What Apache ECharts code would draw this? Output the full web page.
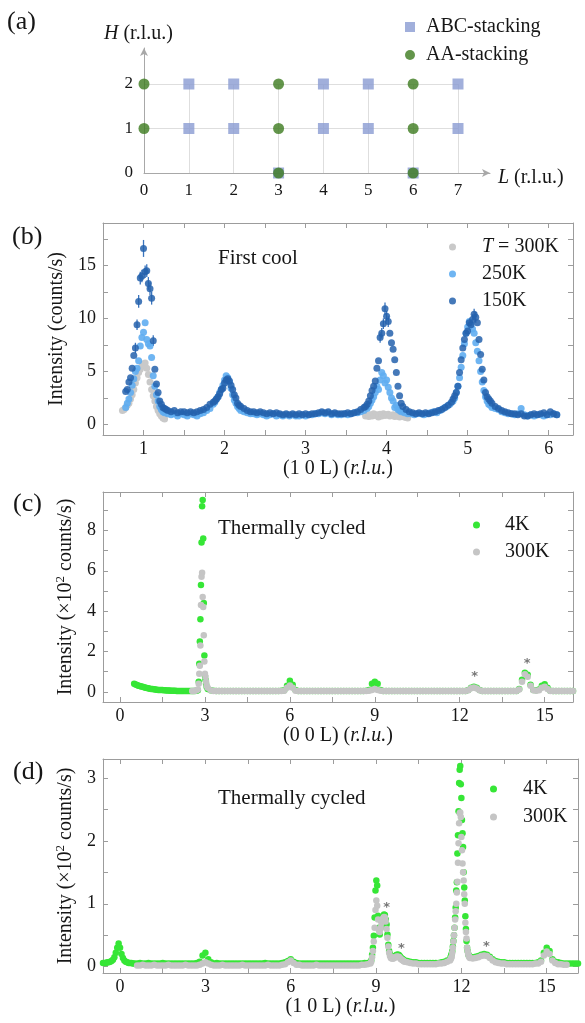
<!DOCTYPE html>
<html>
<head>
<meta charset="utf-8">
<script src="https://cdn.jsdelivr.net/npm/echarts@6/dist/echarts.min.js"></script>
<style>
html,body{margin:0;padding:0;background:#fff;}
#chart{width:585px;height:1023px;}
</style>
</head>
<body>
<div id="chart"></div>
<script>
// ---------- (a) reciprocal-space map of allowed (H 0 L) reflections ----------
const abcStacking = [[1,2],[2,2],[4,2],[5,2],[7,2],[1,1],[2,1],[4,1],[5,1],[7,1],[3,0],[6,0]];
const aaStacking  = [[0,2],[3,2],[6,2],[0,1],[3,1],[6,1],[3,0],[6,0]];

// Scans are stored as segments: [first L, L step, intensities...]
// ---------- (b) first cool, (1 0 L), counts/s ----------
const firstCool300K = [
  [0.74, 0.02, [1.3,1.4,1.6,1.8,2.0,2.4,2.8,3.3,3.9,4.4,4.9,5.2,5.5,5.7,5.8,5.3,4.7,4.0,3.3,2.7,2.2,1.7,1.3,1.0,0.8,0.6,0.5]],
  [3.74, 0.02, [0.8,0.85,0.75,0.9,0.8,1.0,0.85,0.9,0.7,0.95,0.8,1.0,0.85,0.9,0.95,0.8,0.85,0.9,0.75,0.8,0.85,0.7,0.75,0.8,0.7,0.65,0.6]]
];
const firstCool250K = [
  [0.78, 0.02, [1.6,2.0,2.4,3.0,3.7,4.3,5.0,5.3,6.0,7.4,8.2,8.7,9.6,8.0,7.6,7.4,6.3,4.6,3.6,2.8,2.2,1.7,1.4,1.2,1.1]],
  [1.30, 0.04, [1.0,0.9,1.0,0.8,1.0,0.9,0.8,1.0,0.9,0.8,1.0,1.1,1.3,1.5]],
  [1.86, 0.02, [1.9,2.1,2.4,2.6,3.0,3.3,3.7,4.2,4.6,4.4,4.0,3.4,2.8,2.3,2.0,1.7,1.5,1.3]],
  [2.24, 0.04, [1.2,1.1,1.0,1.0,0.9,1.0,0.9,0.8,0.9,1.0,0.8,0.9,0.8,0.9,0.8,0.9,0.8,0.8,0.9,0.8,0.9,0.9,1.0,1.0,1.1,1.0,1.1,0.9,1.0,0.9,0.9,1.0,0.9,1.0,1.1,1.1,1.2,1.3]],
  [3.76, 0.02, [1.5,1.7,2.0,2.3,2.6,3.0,3.6,3.3,4.2,4.9,4.6,3.9,4.2,3.5,3.0,2.5,2.2,1.6,1.8,1.4,1.3,1.2]],
  [4.22, 0.04, [1.1,1.0,1.0,0.9,1.0,1.0,0.9,1.0,1.1,1.2,1.1,1.3,1.5,1.7,1.9,2.2]],
  [4.84, 0.02, [2.5,3.0,3.6,4.4,5.4,6.5,7.6,8.6,9.2,9.7,9.4,9.0,8.6,7.7,6.9,6.0,5.0,4.0,3.2,2.6,2.2,1.9,1.8,1.6]],
  [5.34, 0.04, [1.5,1.4,1.2,1.1,1.0,1.0,0.9,1.0,1.5,0.9,0.8,0.9,0.8,0.9,0.9,0.8,0.9,0.9,1.0,0.9]]
];
const firstCool150K = [
  [0.78, 0.02, [3.1,3.3,4.0,4.4,5.3,6.5,7.2,9.4,11.6,13.8,14.0,16.6,14.4,14.5,13.3,12.8,11.9,7.9,5.2,3.8,3.0,2.2,1.9,1.6,1.5,1.4,1.3]],
  [1.34, 0.04, [1.2,1.3,1.1,1.2,1.2,1.1,1.2,1.1,1.2,1.3,1.4,1.6,1.9,2.1]],
  [1.88, 0.02, [2.2,2.4,2.6,2.9,3.3,3.4,3.9,4.2,4.3,4.1,3.7,3.3,2.8,2.5,2.0,1.8,1.7]],
  [2.24, 0.04, [1.5,1.3,1.2,1.2,1.1,1.2,1.1,1.0,1.1,1.0,1.1,1.0,0.9,1.0,0.9,1.0,0.9,1.0,0.9,1.0,0.9,1.0,1.0,1.1,1.2,1.1,1.2,1.0,1.1,1.0,1.0,1.0,1.1,1.0,1.1,1.2,1.4,1.6]],
  [3.74, 0.02, [1.7,1.9,2.2,2.7,3.2,3.6,4.1,5.3,6.0,8.2,8.6,9.5,10.9,10.2,9.7,8.6,7.7,7.1,6.1,4.9,3.6,2.7,2.0,1.7]],
  [4.24, 0.04, [1.4,1.2,1.1,1.0,1.1,1.0,1.1,1.0,1.1,1.2,1.3,1.4,1.6,1.8,2.1]],
  [4.82, 0.02, [2.4,2.7,3.0,3.6,4.9,6.1,7.2,8.0,8.6,8.8,9.6,9.4,9.9,10.4,10.1,9.6,8.0,6.6,5.2,4.2,3.0,2.6,2.4,2.2,2.0]],
  [5.34, 0.04, [1.7,1.5,1.3,1.2,1.1,1.0,1.0,0.9,1.0,0.8,0.8,0.9,1.0,0.9,1.0,1.1,0.9,1.2,1.0,0.9]]
];
// statistical error bars of the 150K scan: [L, sigma]
const firstCool150KErr = [[0.90,0.5],[0.92,0.5],[0.94,0.6],[0.96,0.6],[0.98,0.6],[1.00,0.8],[1.02,0.6],[1.04,0.6],[1.06,0.6],[1.08,0.6],[1.10,0.6],[1.12,0.5],
  [3.92,0.5],[3.94,0.5],[3.96,0.5],[3.98,0.6],[4.00,0.5],[4.02,0.5],[5.04,0.5],[5.06,0.5],[5.08,0.5],[5.10,0.5]];

// ---------- (c) thermally cycled, (0 0 L), x10^2 counts/s ----------
const cycled00L_4K = [
  [0.50, 0.05, [0.40,0.37,0.34,0.31,0.29,0.27,0.25,0.23,0.21,0.19,0.18,0.16,0.15,0.14,0.13,0.12,0.11,0.10,0.10,0.09,0.09,0.08,0.08,0.07,0.07,0.07,0.06,0.06,0.06,0.06,0.05,0.05,0.05,0.05,0.05,0.05,0.05,0.05,0.05,0.05,0.05,0.05,0.05,0.05,0.06,0.08]],
  [2.78, 0.02, [0.5,1.4,2.5,3.6,5.3,7.4,9.2,9.5,7.6,4.4,1.8,0.8,0.6,0.4,0.25]],
  [3.10, 0.10, [0.15,0.08,0.06,
    0.05,0.05,0.05,0.05,0.05,0.05,0.05,0.05,0.05,0.05,0.05,0.05,0.05,0.05,0.05,0.05,0.05,0.05,0.05,0.05,0.05,0.05,0.05,0.06,
    0.08,0.30,0.55,0.35,0.10,
    0.05,0.05,0.05,0.05,0.05,0.05,0.05,0.05,0.05,0.05,0.05,0.05,0.05,0.05,0.05,0.05,0.05,0.05,0.05,0.05,0.05,0.05,0.05,0.05,0.06,
    0.10,0.40,0.50,0.40,0.10,
    0.05,0.05,0.05,0.05,0.05,0.05,0.05,0.05,0.05,0.05,0.05,0.05,0.05,0.05,0.05,0.05,0.05,0.05,0.05,0.05,0.05,0.05,0.05,0.05,0.05,0.05,0.05,0.05,0.05,0.05,
    0.10,0.20,0.26,0.20,0.10,
    0.05,0.05,0.05,0.05,0.05,0.05,0.05,0.05,0.05,0.05,0.05,0.05,0.05,
    0.15,0.60,0.95,0.85,0.35,0.10,0.08,0.12,0.30,0.38,0.20,0.06,
    0.05,0.05,0.05,0.05,0.05,0.05,0.05,0.05]]
];
const cycled00L_300K = [
  [2.55, 0.05, [0.05,0.05,0.06,0.08,0.12]],
  [2.78, 0.02, [0.4,0.9,1.3,2.3,4.3,5.7,5.9,4.7,4.2,2.8,1.5,0.9,0.75,0.5,0.3]],
  [3.10, 0.10, [0.20,0.08,0.05,
    0.05,0.05,0.05,0.05,0.05,0.05,0.05,0.05,0.05,0.05,0.05,0.05,0.05,0.05,0.05,0.05,0.05,0.05,0.05,0.05,0.05,0.05,0.05,0.05,
    0.06,0.20,0.32,0.20,0.06,
    0.05,0.05,0.05,0.05,0.05,0.05,0.05,0.05,0.05,0.05,0.05,0.05,0.05,0.05,0.05,0.05,0.05,0.05,0.05,0.05,0.05,0.05,0.05,0.05,0.05,
    0.06,0.10,0.14,0.10,0.06,
    0.05,0.05,0.05,0.05,0.05,0.05,0.05,0.05,0.05,0.05,0.05,0.05,0.05,0.05,0.05,0.05,0.05,0.05,0.05,0.05,0.05,0.05,0.05,0.05,0.05,0.05,0.05,0.05,0.05,0.05,
    0.08,0.18,0.22,0.17,0.08,
    0.05,0.05,0.05,0.05,0.05,0.05,0.05,0.05,0.05,0.05,0.05,0.05,0.05,
    0.12,0.50,0.88,0.75,0.30,0.08,0.06,0.08,0.20,0.26,0.15,0.05,
    0.05,0.05,0.05,0.05,0.05,0.05,0.05,0.05]]
];
const cycled00LStars = [[12.53, 0.74], [14.38, 1.40]];

// ---------- (d) thermally cycled, (1 0 L), x10^2 counts/s ----------
const cycled10L_4K = [
  [-0.60, 0.05, [0.06,0.06,0.06,0.07,0.07,0.08,0.09,0.11,0.15,0.22,0.30,0.37,0.30,0.20,0.14,0.10,0.08,0.07,0.06,0.06,0.06,0.05,0.05]],
  [0.60, 0.10, [0.05,0.06,0.05,0.05,0.06,0.05,0.05,0.05,0.05,0.06,0.05,0.05,0.05,0.05,0.05,0.05,0.05,0.05,0.05,0.05,0.05,0.06,
    0.08,0.18,0.22,0.12,0.07,
    0.05,0.06,0.05,0.05,0.05,0.05,0.05,0.05,0.05,0.05,0.05,0.05,0.05,0.05,0.05,0.05,0.05,0.05,0.06,0.05,0.05,0.05,0.05,0.05,0.06,0.07,
    0.09,0.12,0.08,
    0.06,0.05,0.05,0.05,0.05,0.05,0.05,0.05,0.05,0.05,0.05,0.05,0.05,0.05,0.05,0.05,0.05,0.05,0.05,0.05,0.05,0.05,0.05,0.05,0.06,0.06]],
  [8.80, 0.03, [0.07,0.10,0.19,0.30,0.49,0.78,1.21,1.37,1.29,0.81,0.62,0.51,0.62,0.73,0.78,0.80,0.83,0.82,0.75,0.67,0.51,0.35,0.25,0.20,0.17,0.16,0.15,0.15,0.16,0.17,0.18,0.19,0.19,0.19,0.18,0.16,0.14,0.13,0.12,0.11]],
  [10.0, 0.10, [0.10,0.09,0.08,0.07,0.07,0.06,0.06,0.06,0.06,0.06,0.06,0.06,0.06,0.07,0.08,0.10]],
  [11.60, 0.02, [0.12,0.15,0.18,0.21,0.25,0.32,0.41,0.50,0.62,0.78,0.94,1.21,1.34,1.80,2.09,2.47,2.92,3.13,3.19,2.90,2.68,2.33,2.12,1.90,1.50,1.26,1.05,0.80,0.60,0.41,0.30,0.25,0.20,0.18,0.17,0.16]],
  [12.4, 0.10, [0.15,0.16,0.17,0.19,0.20,0.19,0.16,0.12,0.09,0.08,0.07,0.07,0.06,0.06,0.06,0.06,0.06,0.06,0.06,0.06,0.06,0.06,0.06,0.07,0.10,0.22,0.30,0.25,0.12,0.08,0.07,0.06,0.05,0.05,0.05,0.05,0.05,0.05]]
];
const cycled10L_300K = [
  [0.60, 0.10, [0.02,0.02,0.03,0.02,0.02,0.02,0.03,0.02,0.02,0.02,0.02,0.03,0.02,0.02,0.02,0.02,0.02,0.03,0.02,0.02,0.02,0.02,
    0.03,0.05,0.07,0.05,0.03,
    0.02,0.02,0.02,0.03,0.02,0.02,0.02,0.02,0.02,0.02,0.03,0.02,0.02,0.02,0.02,0.02,0.02,0.02,0.02,0.03,0.02,0.02,0.02,0.02,0.03,0.04,
    0.07,0.10,0.06,
    0.03,0.03,0.02,0.02,0.02,0.02,0.02,0.03,0.02,0.02,0.02,0.02,0.02,0.02,0.02,0.02,0.02,0.02,0.02,0.02,0.02,0.02,0.02,0.03,0.03,0.04]],
  [8.80, 0.03, [0.05,0.08,0.15,0.25,0.40,0.62,0.90,1.05,0.97,0.75,0.58,0.55,0.62,0.70,0.74,0.77,0.79,0.78,0.72,0.60,0.46,0.32,0.22,0.17,0.14,0.13,0.13,0.13,0.14,0.15,0.16,0.16,0.16,0.16,0.15,0.13,0.12,0.11,0.10,0.09]],
  [10.0, 0.10, [0.08,0.07,0.06,0.05,0.05,0.04,0.04,0.04,0.04,0.04,0.04,0.04,0.05,0.05,0.06,0.08]],
  [11.60, 0.02, [0.10,0.12,0.14,0.16,0.22,0.30,0.40,0.50,0.62,0.75,0.88,1.00,1.18,1.35,1.65,1.96,2.28,2.44,2.45,2.38,2.06,1.85,1.64,1.50,1.37,1.15,1.00,0.70,0.55,0.45,0.30,0.24,0.20,0.17,0.15,0.14]],
  [12.4, 0.10, [0.13,0.14,0.15,0.17,0.18,0.17,0.14,0.10,0.07,0.06,0.05,0.05,0.04,0.04,0.04,0.04,0.04,0.04,0.04,0.04,0.04,0.04,0.05,0.05,0.08,0.18,0.24,0.20,0.10,0.06,0.04,0.04,0.03,0.03]]
];
const cycled10LStars = [[9.37, 0.94], [9.89, 0.29], [12.88, 0.32]];

// ---------- tick positions ----------
const bTicksX = [1,1.5,2,2.5,3,3.5,4,4.5,5,5.5,6];
const bLabelsX = [1,2,3,4,5,6];
const bTicksY = [0,2.5,5,7.5,10,12.5,15,17.5];
const bLabelsY = [0,5,10,15];
const cdTicksX = [0,1.5,3,4.5,6,7.5,9,10.5,12,13.5,15];
const cdLabelsX = [0,3,6,9,12,15];
const cTicksY = [0,1,2,3,4,5,6,7,8,9];
const cLabelsY = [0,2,4,6,8];
const dTicksY = [0,0.5,1,1.5,2,2.5,3];
const dLabelsY = [0,1,2,3];

// expand scan segments into [L, I] points
function scan(segments) {
  const pts = [];
  segments.forEach(([start, step, vals]) => {
    vals.forEach((v, i) => pts.push([Math.round((start + step * i) * 1000) / 1000, v]));
  });
  return pts;
}

const serif = '"Liberation Serif","Times New Roman",Times,serif';
const frameColor = '#9c9c9c';
const tickText = { fontFamily: serif, fontSize: 18, color: '#161616' };
const italicRich = {
  i: { fontFamily: serif, fontSize: 20, fontStyle: 'italic', color: '#161616' },
  a: { fontFamily: serif, fontSize: 20, color: '#161616', lineHeight: 24 },
  s: { fontFamily: serif, fontSize: 13, color: '#161616', verticalAlign: 'top', lineHeight: 13 }
};
const titleText = { fontFamily: serif, fontSize: 20, color: '#161616', rich: italicRich };

function frameX(grid, min, max, ticks, labels, name, nameGap) {
  const common = {
    type: 'value', gridIndex: grid, min: min, max: max, splitLine: { show: false },
    axisLine: { show: true, onZero: false, lineStyle: { color: frameColor, width: 1 } },
    axisTick: { show: true, inside: true, length: 5, customValues: ticks, lineStyle: { color: frameColor } }
  };
  return [
    Object.assign({}, common, {
      position: 'bottom',
      axisLabel: Object.assign({ customValues: labels, margin: 5 }, tickText),
      name: name, nameLocation: 'middle', nameGap: nameGap, nameTextStyle: titleText
    }),
    Object.assign({}, common, { position: 'top', axisLabel: { show: false } })
  ];
}
function frameY(grid, min, max, ticks, labels, name, nameGap) {
  const common = {
    type: 'value', gridIndex: grid, min: min, max: max, splitLine: { show: false },
    axisLine: { show: true, onZero: false, lineStyle: { color: frameColor, width: 1 } },
    axisTick: { show: true, inside: true, length: 5, customValues: ticks, lineStyle: { color: frameColor } }
  };
  return [
    Object.assign({}, common, {
      position: 'left',
      axisLabel: Object.assign({ customValues: labels, margin: 7 }, tickText),
      name: name, nameLocation: 'middle', nameGap: nameGap, nameTextStyle: titleText
    }),
    Object.assign({}, common, { position: 'right', axisLabel: { show: false } })
  ];
}

const arrowAxis = {
  type: 'value', gridIndex: 1, min: 0, max: 1,
  axisLine: { show: true, onZero: false, symbol: ['none', 'arrow'], symbolSize: [6, 8], lineStyle: { color: '#a8a8a8', width: 1 } },
  axisTick: { show: false }, axisLabel: { show: false }, splitLine: { show: false }
};

const xAxes = [
  { type: 'value', gridIndex: 0, min: 0, max: 7, interval: 1,
    axisLine: { show: false }, axisTick: { show: false },
    axisLabel: Object.assign({ margin: 9 }, tickText, { fontSize: 17 }),
    splitLine: { show: true, lineStyle: { color: '#dedede', width: 1 } } },
  Object.assign({}, arrowAxis, { position: 'bottom' })
].concat(
  frameX(2, 0.5, 6.3, bTicksX, bLabelsX, '(1 0 L) ({i|r.l.u.})', 22),
  frameX(3, -0.6, 16, cdTicksX, cdLabelsX, '(0 0 L) ({i|r.l.u.})', 22),
  frameX(4, -0.6, 16.1, cdTicksX, cdLabelsX, '(1 0 L) ({i|r.l.u.})', 22)
);
const yAxes = [
  { type: 'value', gridIndex: 0, min: 0, max: 2, interval: 1,
    axisLine: { show: false }, axisTick: { show: false },
    axisLabel: Object.assign({ margin: 11 }, tickText, { fontSize: 17 }),
    splitLine: { show: true, lineStyle: { color: '#dedede', width: 1 } } },
  Object.assign({}, arrowAxis, { position: 'left' })
].concat(
  frameY(2, -1, 19, bTicksY, bLabelsY, 'Intensity (counts/s)', 26),
  frameY(3, -0.5, 9.9, cTicksY, cLabelsY, '{a|Intensity (×10}{s|2}{a| counts/s)}', 21),
  frameY(4, -0.1, 3.3, dTicksY, dLabelsY, '{a|Intensity (×10}{s|2}{a| counts/s)}', 21)
);

// 150K error bars, anchored to the measured intensity at each L
const pts150 = scan(firstCool150K);
const lookup150 = new Map(pts150.map(p => [p[0].toFixed(2), p[1]]));
const errData = firstCool150KErr.map(([L, e]) => [L, lookup150.get(L.toFixed(2)), e]);

const green = '#36e636';
const grey = '#c5c5c5';

function dots(name, xi, data, color, size, opacity) {
  return { name: name, type: 'scatter', xAxisIndex: xi, yAxisIndex: xi, data: data,
    symbol: 'circle', symbolSize: size, itemStyle: { color: color, opacity: opacity }, silent: true };
}
function stars(xi, data) {
  return { type: 'scatter', xAxisIndex: xi, yAxisIndex: xi, data: data, symbolSize: 0, silent: true,
    label: { show: true, position: 'inside', formatter: '*', color: '#555', fontFamily: 'DejaVu Sans', fontSize: 13, fontWeight: 'bold' } };
}

const legendBase = { orient: 'vertical', selectedMode: false, itemWidth: 7, itemHeight: 7 };
const displayName = { f300: '{i|T} = 300K', f250: '250K', f150: '150K', c4: '4K', c300: '300K', d4: '4K', d300: '300K' };
const legendText = (pad) => ({ fontFamily: serif, fontSize: 20, color: '#161616', lineHeight: 20, padding: [0, 0, 0, pad], rich: italicRich });

const option = {
  animation: false,
  backgroundColor: '#ffffff',
  grid: [
    { left: 144, top: 84, width: 314, height: 89 },
    { left: 144, top: 48, width: 346, height: 125 },
    { left: 103, top: 223, width: 470, height: 212 },
    { left: 103, top: 492, width: 470, height: 210 },
    { left: 103, top: 759, width: 475, height: 214 }
  ],
  xAxis: xAxes,
  yAxis: yAxes,
  legend: [
    Object.assign({}, legendBase, { data: ['ABC-stacking', 'AA-stacking'], left: 400, top: 12, itemWidth: 10, itemHeight: 10, itemGap: 8, textStyle: legendText(6) }),
    Object.assign({}, legendBase, { data: ['f300', 'f250', 'f150'], left: 444, top: 232, itemGap: 7, formatter: n => displayName[n], textStyle: legendText(21) }),
    Object.assign({}, legendBase, { data: ['c4', 'c300'], left: 468, top: 510, itemGap: 7, formatter: n => displayName[n], textStyle: legendText(20) }),
    Object.assign({}, legendBase, { data: ['d4', 'd300'], left: 485, top: 774, itemGap: 8, formatter: n => displayName[n], textStyle: legendText(21) })
  ],
  graphic: [
    { type: 'text', style: { x: 7, y: 22, text: '(a)', fontFamily: serif, fontSize: 26, fill: '#161616', verticalAlign: 'middle' } },
    { type: 'text', style: { x: 12, y: 237, text: '(b)', fontFamily: serif, fontSize: 26, fill: '#161616', verticalAlign: 'middle' } },
    { type: 'text', style: { x: 13, y: 504, text: '(c)', fontFamily: serif, fontSize: 26, fill: '#161616', verticalAlign: 'middle' } },
    { type: 'text', style: { x: 13, y: 772, text: '(d)', fontFamily: serif, fontSize: 26, fill: '#161616', verticalAlign: 'middle' } },
    { type: 'text', style: { x: 104, y: 34, text: '{i|H} (r.l.u.)', rich: italicRich, fontFamily: serif, fontSize: 20, fill: '#161616', verticalAlign: 'middle' } },
    { type: 'text', style: { x: 498, y: 178, text: '{i|L} (r.l.u.)', rich: italicRich, fontFamily: serif, fontSize: 20, fill: '#161616', verticalAlign: 'middle' } },
    { type: 'text', style: { x: 218, y: 258, text: 'First cool', fontFamily: serif, fontSize: 21, fill: '#161616', verticalAlign: 'middle' } },
    { type: 'text', style: { x: 218, y: 528, text: 'Thermally cycled', fontFamily: serif, fontSize: 21, fill: '#161616', verticalAlign: 'middle' } },
    { type: 'text', style: { x: 218, y: 798, text: 'Thermally cycled', fontFamily: serif, fontSize: 21, fill: '#161616', verticalAlign: 'middle' } }
  ],
  series: [
    { name: 'ABC-stacking', type: 'scatter', xAxisIndex: 0, yAxisIndex: 0, data: abcStacking, symbol: 'rect', symbolSize: 11, itemStyle: { color: '#8a9bd2' }, silent: true },
    { name: 'AA-stacking', type: 'scatter', xAxisIndex: 0, yAxisIndex: 0, data: aaStacking, symbol: 'circle', symbolSize: 11, itemStyle: { color: '#3c7b1e' }, silent: true },

    dots('f300', 2, scan(firstCool300K), '#c9c9c9', 7, 1),
    dots('f250', 2, scan(firstCool250K), '#5fadf1', 7, 0.9),
    { type: 'custom', xAxisIndex: 2, yAxisIndex: 2, data: errData, silent: true,
      encode: { x: 0, y: 1 },
      renderItem: (params, api) => {
        const L = api.value(0), I = api.value(1), e = api.value(2);
        const lo = api.coord([L, I - e]), hi = api.coord([L, I + e]);
        return { type: 'line', shape: { x1: lo[0], y1: lo[1], x2: hi[0], y2: hi[1] }, style: { stroke: '#3a74bd', lineWidth: 1.3 } };
      } },
    dots('f150', 2, pts150, '#2461ad', 7, 0.85),

    dots('c4', 4, scan(cycled00L_4K), green, 6.5, 1),
    dots('c300', 4, scan(cycled00L_300K), grey, 6.5, 1),
    stars(4, cycled00LStars),

    dots('d4', 6, scan(cycled10L_4K), green, 6.5, 1),
    dots('d300', 6, scan(cycled10L_300K), grey, 6.5, 1),
    stars(6, cycled10LStars)
  ]
};

const chart = echarts.init(document.getElementById('chart'), null, { renderer: 'canvas' });
chart.setOption(option);
</script>
</body>
</html>
